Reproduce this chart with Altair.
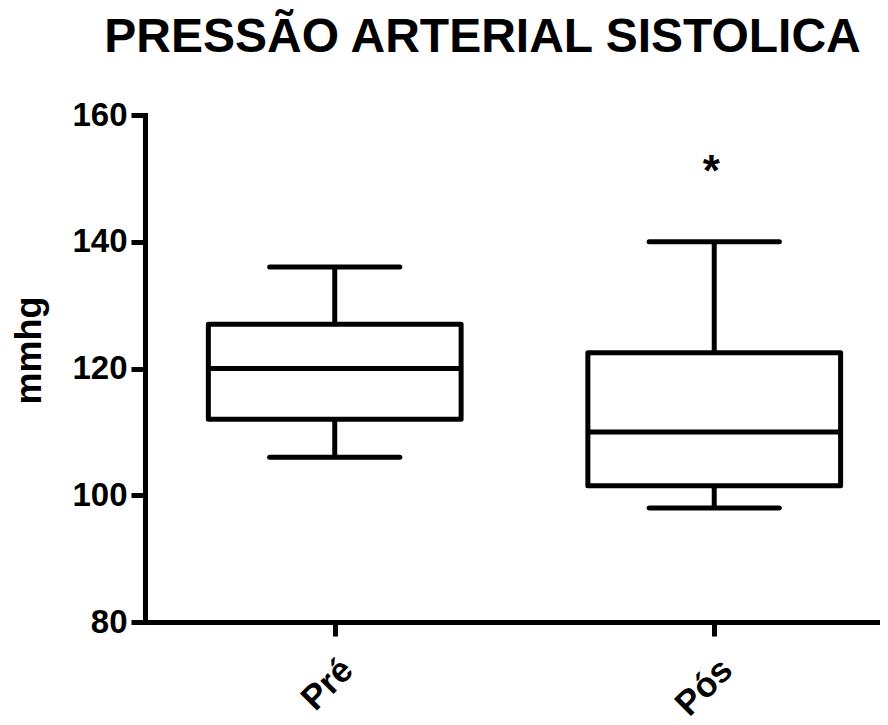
import json
import altair as alt
import pandas as pd

# ---- data ----
groups = ["Pré", "Pós"]
whisker_low = [106, 98]
q1 = [112, 101.5]
median = [120, 110]
q3 = [127, 122.5]
whisker_high = [136, 140]
outlier_group = ["Pós"]
outlier_value = [152.3]

y_ticks = [80, 100, 120, 140, 160]

df = pd.DataFrame({
    "group": groups,
    "pos": list(range(1, len(groups) + 1)),
    "lo": whisker_low,
    "q1": q1,
    "med": median,
    "q3": q3,
    "hi": whisker_high,
})
df_out = pd.DataFrame({
    "group": outlier_group,
    "pos": [groups.index(g) + 1 for g in outlier_group],
    "value": outlier_value,
})

FONT = "Liberation Sans"
SW = 5
BOX_HALF = 0.333
CAP_HALF = 0.1715

label_expr = json.dumps(groups) + "[datum.value - 1]"

x_scale = alt.Scale(domain=[0.5, 2.4368], nice=False, zero=False)
y_scale = alt.Scale(domain=[80, 160], nice=False, zero=False)

x_axis = alt.Axis(values=[1, 2], labelExpr=label_expr, title=None, grid=False,
                  labelAngle=-45, labelAlign="right", labelBaseline="top",
                  labelPadding=16, labelFontSize=35)
y_axis = alt.Axis(values=y_ticks, title="mmhg", grid=False, labelPadding=4,
                  titleFontSize=36, titleFont=FONT, titleFontWeight="bold",
                  titleAngle=-90, titleX=-116, titleY=235, titleAlign="center",
                  titleBaseline="middle", titleColor="black")

base = alt.Chart(df).transform_calculate(
    bx1=f"datum.pos - {BOX_HALF}", bx2=f"datum.pos + {BOX_HALF}",
    cx1=f"datum.pos - {CAP_HALF}", cx2=f"datum.pos + {CAP_HALF}",
)

X = lambda f: alt.X(f"{f}:Q", scale=x_scale, axis=x_axis)
Y = lambda f: alt.Y(f"{f}:Q", scale=y_scale, axis=y_axis)

whisk_hi = base.mark_rule(color="black", strokeWidth=SW).encode(
    x=X("pos"), y=Y("q3"), y2="hi:Q")
whisk_lo = base.mark_rule(color="black", strokeWidth=SW).encode(
    x=X("pos"), y=Y("lo"), y2="q1:Q")
cap_hi = base.mark_rule(color="black", strokeWidth=SW, strokeCap="round").encode(
    x=X("cx1"), x2="cx2:Q", y=Y("hi"))
cap_lo = base.mark_rule(color="black", strokeWidth=SW, strokeCap="round").encode(
    x=X("cx1"), x2="cx2:Q", y=Y("lo"))
box = base.mark_rect(fill="white", stroke="black", strokeWidth=SW,
                     strokeJoin="round").encode(
    x=X("bx1"), x2="bx2:Q", y=Y("q1"), y2="q3:Q")
med = base.mark_rule(color="black", strokeWidth=SW).encode(
    x=X("bx1"), x2="bx2:Q", y=Y("med"))

out = alt.Chart(df_out).mark_text(text="*", font=FONT, fontWeight="bold",
                                  fontSize=44, color="black",
                                  baseline="alphabetic", dy=22, dx=-3).encode(
    x=X("pos"), y=Y("value"))

chart = alt.layer(whisk_hi, whisk_lo, cap_hi, cap_lo, box, med, out).properties(
    width=735, height=507,
    title=alt.TitleParams("PRESSÃO ARTERIAL SISTOLICA", font=FONT, fontSize=48,
                          fontWeight="bold", color="black", anchor="middle",
                          dx=-30, offset=37),
    autosize=alt.AutoSizeParams(type="none"),
    padding={"left": 137, "top": 107, "right": 0, "bottom": 102},
).configure_view(stroke=None).configure_axis(
    domainColor="black", domainWidth=SW, tickColor="black", tickWidth=SW,
    tickSize=14, labelFont=FONT, labelFontWeight="bold", labelFontSize=33,
    labelColor="black", domainCap="square",
)

chart.save("out.html", embed_options={"renderer": "svg", "actions": False})
